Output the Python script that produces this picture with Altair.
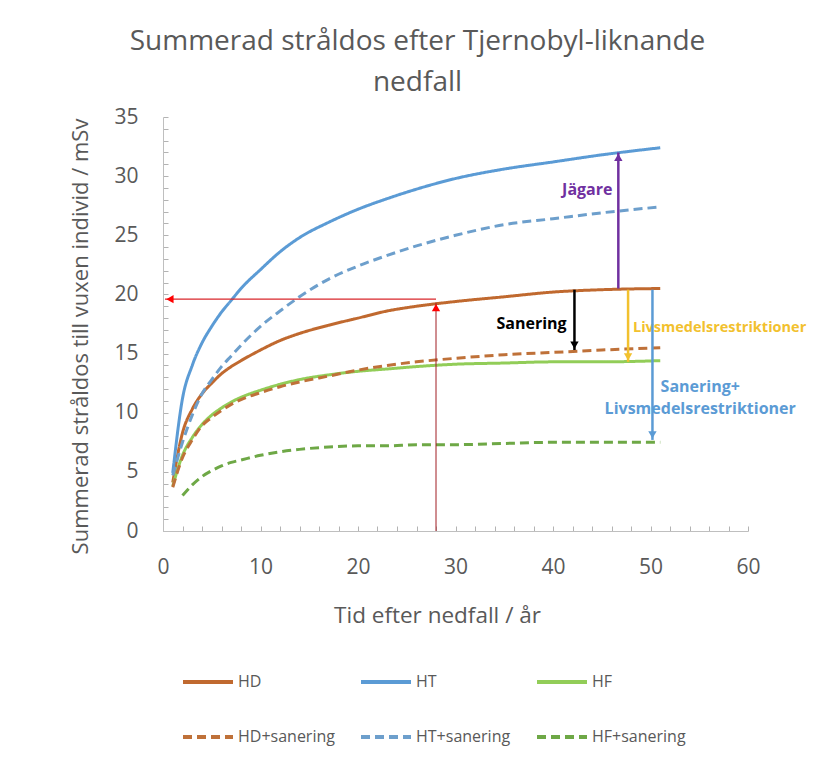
import altair as alt
import pandas as pd

# ---------------- data ----------------
years = [1, 2, 3, 4, 5, 6, 7, 8, 10, 12, 14, 17, 20, 23, 26, 30, 35, 40, 45, 51]
hd = [4.1, 8.3, 10.3, 11.6, 12.5, 13.3, 13.9, 14.4, 15.3, 16.1, 16.7, 17.4, 18.0, 18.6, 19.0, 19.4, 19.8, 20.2, 20.4, 20.5]
ht = [4.9, 11.2, 14.0, 15.9, 17.3, 18.5, 19.5, 20.5, 22.1, 23.6, 24.8, 26.1, 27.2, 28.1, 28.9, 29.8, 30.6, 31.2, 31.8, 32.4]
hf = [3.8, 6.4, 7.9, 9.0, 9.8, 10.4, 10.9, 11.3, 11.9, 12.4, 12.8, 13.2, 13.5, 13.7, 13.9, 14.1, 14.2, 14.3, 14.3, 14.4]
hd_san = [3.7, 6.2, 7.7, 8.9, 9.6, 10.2, 10.7, 11.1, 11.7, 12.2, 12.6, 13.1, 13.6, 14.0, 14.3, 14.6, 14.9, 15.1, 15.3, 15.5]
ht_san = [4.7, 7.5, 9.8, 11.6, 12.8, 13.9, 14.8, 15.7, 17.3, 18.6, 19.8, 21.3, 22.4, 23.3, 24.1, 25.0, 25.9, 26.4, 26.9, 27.4]
hf_san = [None, 3.0, 3.9, 4.6, 5.1, 5.5, 5.8, 6.0, 6.4, 6.7, 6.9, 7.1, 7.2, 7.2, 7.3, 7.3, 7.4, 7.5, 7.5, 7.5]

series_names = ["HD", "HT", "HF", "HD+sanering", "HT+sanering", "HF+sanering"]
series_colors = ["#c0692f", "#5b9bd5", "#92cd58", "#bf7139", "#6d9fcc", "#6ea846"]
series_dash = [[1, 0], [1, 0], [1, 0], [9, 5], [9, 5], [9, 5]]
# legend is filled column by column: HD / HD+sanering, HT / HT+sanering, HF / HF+sanering
legend_order = ["HD", "HD+sanering", "HT", "HT+sanering", "HF", "HF+sanering"]

# axis ticks (minor) and which of them carry a label
x_ticks = list(range(0, 61, 2))
y_ticks = list(range(0, 36, 1))
x_label_step = 10
y_label_step = 5

# reading guide (red)
guide_year = [28]
guide_curve = [19.3]
guide_level = [19.6]
guide_left = [0.2]

# difference arrows
arrow_names = ["Jägare", "Sanering", "Livsmedelsrestriktioner", "Sanering+Livsmedelsrestriktioner"]
arrow_year = [46.7, 42.2, 47.7, 50.2]
arrow_from = [20.5, 20.4, 20.4, 20.4]
arrow_to = [32.0, 15.3, 14.3, 7.7]

# annotation texts
label_text = ["Jägare", "Sanering", "Livsmedelsrestriktioner", "Sanering+\nLivsmedelsrestriktioner"]
label_year = [46.1, 41.4, 48.2, 55.1]
label_value = [28.8, 17.5, 17.2, 12.15]

# ---------------- tables ----------------
rows = []
for name, vals in zip(series_names, [hd, ht, hf, hd_san, ht_san, hf_san]):
    for yr, v in zip(years, vals):
        if v is not None:
            rows.append({"serie": name, "ar": yr, "dos": v})
curves = pd.DataFrame(rows)

color_range = [series_colors[series_names.index(n)] for n in legend_order]
dash_range = [series_dash[series_names.index(n)] for n in legend_order]

arrows = pd.DataFrame({"namn": arrow_names, "ar": arrow_year, "fran": arrow_from, "till": arrow_to})
labels = pd.DataFrame({"text": label_text, "ar": label_year, "dos": label_value})
guide = pd.DataFrame({"ar": guide_year, "kurva": guide_curve, "niva": guide_level, "vanster": guide_left, "noll": [0]})

FONT = "Open Sans"
GREY = "#595959"
AXIS_GREY = "#bfbfbf"
TICK_GREY = "#b3b3b3"
W, H = 585, 414
TICK_LEN = 5
xs = alt.Scale(domain=[0, 60], nice=False, zero=False)
ys = alt.Scale(domain=[0, 35], nice=False, zero=False)

# short inward ticks drawn as the axis-side end of dashed grid lines
# (x grid lines run top -> axis, y grid lines run axis -> right)
x_main = alt.Axis(values=x_ticks, tickCount=200, format="d",
                  labelExpr=f"datum.value % {x_label_step} === 0 ? datum.label : ''",
                  ticks=False, tickSize=0, grid=True, gridDash=[0, H - TICK_LEN, TICK_LEN, 5000],
                  gridColor=TICK_GREY, gridWidth=1,
                  domainColor=AXIS_GREY, labelOverlap=False, labelFlush=False,
                  labelFont=FONT, labelFontSize=21, labelColor=GREY, labelPadding=25,
                  title="Tid efter nedfall / år", titleFont=FONT, titleFontSize=22.5, titleFontWeight="normal",
                  titleColor=GREY, titleX=274, titleY=84, titleBaseline="middle", orient="bottom")
y_main = alt.Axis(values=y_ticks, tickCount=200, format="d",
                  labelExpr=f"datum.value % {y_label_step} === 0 ? datum.label : ''",
                  ticks=False, tickSize=0, grid=True, gridDash=[TICK_LEN, 5000],
                  gridColor=TICK_GREY, gridWidth=1,
                  domainColor=AXIS_GREY, labelOverlap=False, labelFlush=False,
                  labelFont=FONT, labelFontSize=21, labelColor=GREY, labelPadding=25,
                  title="Summerad stråldos till vuxen individ / mSv", titleFont=FONT, titleFontSize=22,
                  titleFontWeight="normal", titleColor=GREY, titleX=-83, titleY=219,
                  titleBaseline="middle", orient="left")


def X(field):
    return alt.X(field, type="quantitative", scale=xs, axis=x_main)


def Y(field):
    return alt.Y(field, type="quantitative", scale=ys, axis=y_main)


lines = alt.Chart(curves).mark_line(strokeWidth=3, interpolate="monotone").encode(
    x=X("ar"),
    y=Y("dos"),
    color=alt.Color("serie:N", sort=legend_order,
                    scale=alt.Scale(domain=legend_order, range=color_range),
                    legend=alt.Legend(title=None, orient="none", legendX=18, legendY=538, columns=3,
                                      symbolType="stroke", symbolSize=2500, symbolStrokeWidth=4,
                                      labelFont=FONT, labelFontSize=16, labelColor=GREY,
                                      labelOffset=3, columnPadding=18, rowPadding=20, padding=0)),
    strokeDash=alt.StrokeDash("serie:N", sort=legend_order,
                              scale=alt.Scale(domain=legend_order, range=dash_range), legend=None),
    detail="serie:N",
)

# red reading guide
vguide = alt.Chart(guide).mark_rule(color="#a01c22", strokeWidth=1).encode(
    x=X("ar"), y=Y("noll"), y2="kurva:Q",
)
hguide = alt.Chart(guide).mark_rule(color="#d9262b", strokeWidth=1.3).encode(
    x=X("ar"), x2="vanster:Q", y=Y("niva"),
)
vhead = alt.Chart(guide).mark_point(shape="triangle-up", filled=True, size=70, opacity=1,
                                    color="#ff0000", yOffset=5).encode(x=X("ar"), y=Y("kurva"))
hhead = alt.Chart(guide).mark_point(shape="triangle-left", filled=True, size=70, opacity=1,
                                    color="#ff0000", xOffset=5).encode(x=X("vanster"), y=Y("niva"))


def text_layer(txt, color, align, size=16):
    return alt.Chart(labels[labels["text"] == txt]).mark_text(
        font=FONT, fontSize=size, fontWeight="bold", color=color, align=align, baseline="middle",
        lineBreak="\n", lineHeight=22).encode(x=X("ar"), y=Y("dos"), text="text:N")


def arrow_layer(name, color, up):
    d = arrows[arrows["namn"] == name]
    rule = alt.Chart(d).mark_rule(color=color, strokeWidth=2.5).encode(
        x=X("ar"), y=Y("fran"), y2="till:Q",
    )
    head = alt.Chart(d).mark_point(shape="triangle-up" if up else "triangle-down", filled=True,
                                   size=70, opacity=1, color=color,
                                   yOffset=5 if up else -5).encode(x=X("ar"), y=Y("till"))
    return [rule, head]


texts = [
    text_layer("Jägare", "#7030a0", "right"),
    text_layer("Sanering", "#000000", "right"),
    text_layer("Livsmedelsrestriktioner", "#f2c12e", "left", 14.5),
    text_layer("Sanering+\nLivsmedelsrestriktioner", "#5b9bd5", "center"),
]
arrs = (arrow_layer("Jägare", "#7030a0", True) + arrow_layer("Sanering", "#000000", False)
        + arrow_layer("Livsmedelsrestriktioner", "#f2c12e", False)
        + arrow_layer("Sanering+Livsmedelsrestriktioner", "#5b9bd5", False))

chart = alt.layer(lines, vguide, hguide, vhead, hhead, *texts, *arrs).properties(
    width=W, height=H,
    autosize=alt.AutoSizeParams(type="none"),
    padding={"left": 155, "top": 109, "right": 63, "bottom": 225},
    title=alt.TitleParams(["Summerad stråldos efter Tjernobyl-liknande", "nedfall"], font=FONT,
                          fontSize=28, fontWeight="normal", color=GREY, anchor="middle", dx=-38,
                          lineHeight=41, offset=9),
    background="white",
).configure_view(stroke=None)

chart.save("out.html", embed_options={"renderer": "svg", "actions": False})
